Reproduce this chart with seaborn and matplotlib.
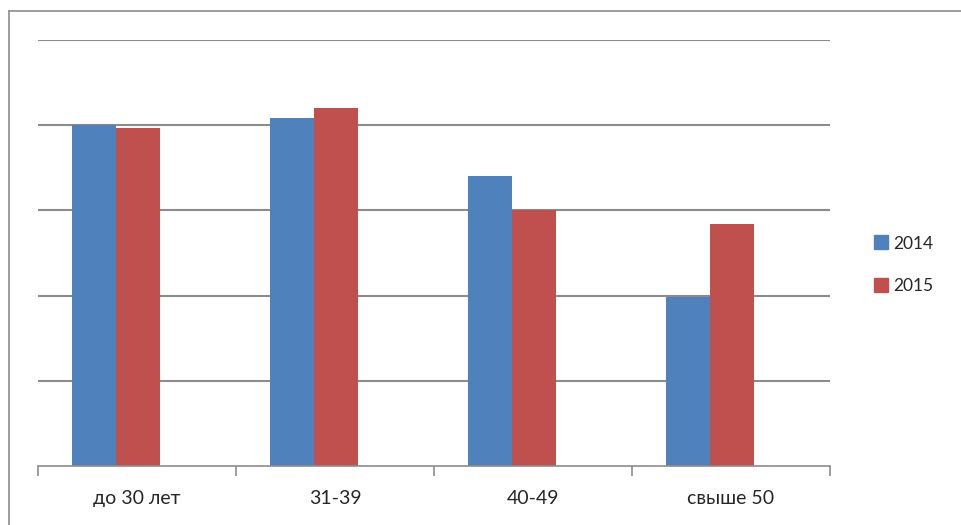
import pandas as pd
import matplotlib.pyplot as plt
import seaborn as sns
from matplotlib.lines import Line2D

categories = ['до 30 лет', '31-39', '40-49', 'свыше 50']
years = ['2014', '2015']
values_2014 = [4.00, 4.08, 3.40, 1.98]
values_2015 = [3.97, 4.20, 3.00, 2.84]
colors = ['#4F81BD', '#C0504D']

df = pd.DataFrame({
    'group': categories * 2,
    'year': [years[0]] * 4 + [years[1]] * 4,
    'value': values_2014 + values_2015,
})

sns.set_style('white')
plt.rcParams['font.family'] = ['Lato', 'DejaVu Sans']

fig = plt.figure(figsize=(9.62, 5.25), dpi=100)
ax = fig.add_axes([38 / 962, 1 - 466 / 525, (830 - 38) / 962, (466 - 40) / 525])

sns.barplot(data=df, x='group', y='value', hue='year', palette=colors,
            width=0.445, saturation=1, ax=ax, legend=False)

# bars sit a bit left of the category centre, like in the original
for p in ax.patches:
    p.set_x(p.get_x() - 0.105)
    p.set_edgecolor('none')

ax.set_xlim(-0.5, len(categories) - 0.5)
ax.set_ylim(0, 5)
ax.set_yticks([1, 2, 3, 4, 5])
ax.set_yticklabels([])
ax.yaxis.grid(True, color='#8C8C8C', linewidth=1.5)
ax.set_axisbelow(True)
ax.tick_params(axis='y', length=0)

# category labels centred, tick marks on the boundaries
ax.set_xticks(range(len(categories)))
ax.set_xticklabels(categories, fontsize=14)
ax.tick_params(axis='x', which='major', length=0, pad=17)
ax.set_xticks([i - 0.5 for i in range(len(categories) + 1)], minor=True)
ax.tick_params(axis='x', which='minor', bottom=True, length=7, width=1.2,
               color='#8C8C8C', direction='out')
ax.set_xlabel('')
ax.set_ylabel('')

for s in ['top', 'right', 'left']:
    ax.spines[s].set_visible(False)
ax.spines['bottom'].set_color('#8C8C8C')
ax.spines['bottom'].set_linewidth(1.2)

handles = [Line2D([], [], marker='s', linestyle='none', markersize=10,
                  markerfacecolor=c, markeredgecolor=c) for c in colors]
fig.legend(handles, years, loc='center left', bbox_to_anchor=(857 / 962, 1 - 265 / 525),
           frameon=False, fontsize=12.5, handletextpad=0.2, labelspacing=1.55,
           handlelength=1.0)

# outer chart frame (left and top edges)
fig.add_artist(Line2D([8.5 / 962, 8.5 / 962], [0, 1 - 10.5 / 525], color='#8C8C8C',
                      linewidth=1.2, transform=fig.transFigure))
fig.add_artist(Line2D([8.5 / 962, 1], [1 - 10.5 / 525, 1 - 10.5 / 525], color='#8C8C8C',
                      linewidth=1.2, transform=fig.transFigure))

fig.savefig('out.png', dpi=100)
